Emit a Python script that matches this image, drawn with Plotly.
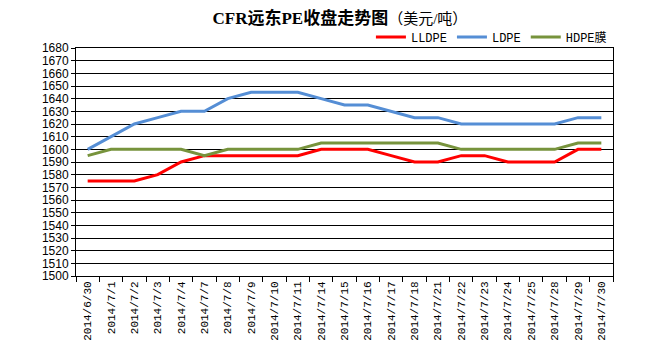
import plotly.graph_objects as go

dates = ["2014/6/30", "2014/7/1", "2014/7/2", "2014/7/3", "2014/7/4", "2014/7/7",
         "2014/7/8", "2014/7/9", "2014/7/10", "2014/7/11", "2014/7/14", "2014/7/15",
         "2014/7/16", "2014/7/17", "2014/7/18", "2014/7/21", "2014/7/22", "2014/7/23",
         "2014/7/24", "2014/7/25", "2014/7/28", "2014/7/29", "2014/7/30"]
lldpe = [1575, 1575, 1575, 1580, 1590, 1595, 1595, 1595, 1595, 1595, 1600, 1600,
         1600, 1595, 1590, 1590, 1595, 1595, 1590, 1590, 1590, 1600, 1600]
ldpe = [1600, 1610, 1620, 1625, 1630, 1630, 1640, 1645, 1645, 1645, 1640, 1635,
        1635, 1630, 1625, 1625, 1620, 1620, 1620, 1620, 1620, 1625, 1625]
hdpe = [1595, 1600, 1600, 1600, 1600, 1595, 1600, 1600, 1600, 1600, 1605, 1605,
        1605, 1605, 1605, 1605, 1600, 1600, 1600, 1600, 1600, 1605, 1605]

fig = go.Figure()
for name, vals, col in [("LLDPE", lldpe, "#FF0000"), ("LDPE", ldpe, "#558ED5"),
                        ("HDPE膜", hdpe, "#77933C")]:
    fig.add_trace(go.Scatter(x=dates, y=vals, name=name, mode="lines",
                             line=dict(color=col, width=3)))

fig.update_layout(
    width=650, height=353,
    margin=dict(l=76, r=37, t=48, b=75),
    paper_bgcolor="white", plot_bgcolor="white",
    title=dict(
        text="<b>CFR远东PE收盘走势图</b><span style='font-size:15px'>（美元/吨）</span>",
        x=0.523, xanchor="center", y=0.965, yanchor="top",
        font=dict(family="Liberation Serif, Noto Sans CJK SC", size=17, color="black")),
    legend=dict(orientation="h", x=0.998, xanchor="right", y=0.985, yanchor="bottom",
                font=dict(family="Liberation Mono, Noto Sans CJK SC", size=12, color="black"),
                bgcolor="rgba(0,0,0,0)", itemwidth=30, tracegroupgap=0),
    xaxis=dict(type="category", range=[-0.5, 22.5], tickangle=-90,
               tickson="boundaries", ticks="outside", ticklen=5, tickcolor="black",
               showline=True, linecolor="black", linewidth=1, mirror=True,
               showgrid=False,
               tickfont=dict(family="Liberation Mono", size=11, color="black")),
    yaxis=dict(range=[1500, 1680], dtick=10, tick0=1500,
               ticks="outside", ticklen=4, tickcolor="black",
               showline=True, linecolor="black", linewidth=1, mirror=True,
               showgrid=True, gridcolor="black", gridwidth=1,
               tickfont=dict(family="Liberation Sans", size=12, color="black")),
)

fig.write_html("out.html")
